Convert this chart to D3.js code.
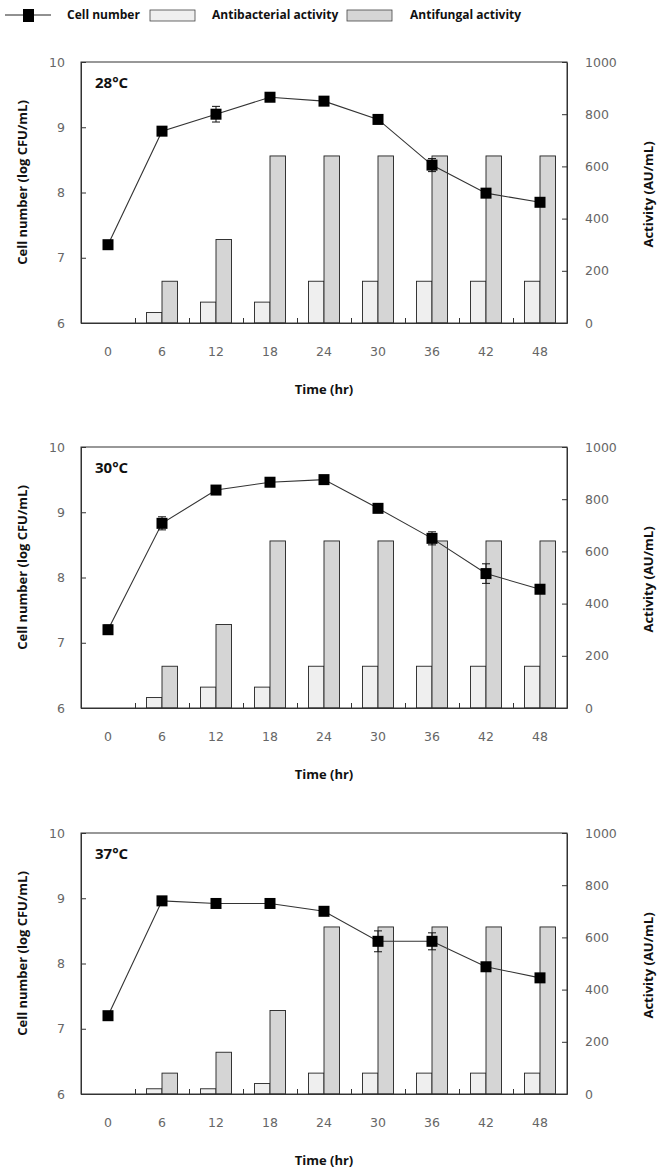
<!DOCTYPE html>
<html>
<head>
<meta charset="utf-8">
<script src="https://cdn.jsdelivr.net/npm/d3@7"></script>
<style>
  body { margin: 0; background: #fff; }
  svg { display: block; }
  .tick text { font-family: "DejaVu Sans", sans-serif; font-size: 12.5px; fill: #666; }
  .bold { font-family: "Open Sans", sans-serif; font-weight: bold; font-size: 12px; fill: #111; }
  .title { font-size: 13px; }
</style>
</head>
<body>
<script>
// time points (hr)
var times = ["0", "6", "12", "18", "24", "30", "36", "42", "48"];
var cellTicks = [6, 7, 8, 9, 10];
var actTicks = [0, 200, 400, 600, 800, 1000];

// 28 C
var cell28 = [7.2, 8.94, 9.2, 9.46, 9.4, 9.12, 8.42, 7.99, 7.85];
var err28 = [0.05, 0.03, 0.12, 0.03, 0.03, 0.03, 0.1, 0.03, 0.03];
var bac28 = [0, 40, 80, 80, 160, 160, 160, 160, 160];
var fun28 = [0, 160, 320, 640, 640, 640, 640, 640, 640];

// 30 C
var cell30 = [7.2, 8.83, 9.34, 9.46, 9.5, 9.06, 8.6, 8.06, 7.82];
var err30 = [0.07, 0.1, 0.03, 0.06, 0.03, 0.06, 0.1, 0.15, 0.03];
var bac30 = [0, 40, 80, 80, 160, 160, 160, 160, 160];
var fun30 = [0, 160, 320, 640, 640, 640, 640, 640, 640];

// 37 C
var cell37 = [7.2, 8.96, 8.92, 8.92, 8.8, 8.34, 8.34, 7.95, 7.78];
var err37 = [0.05, 0.03, 0.03, 0.03, 0.03, 0.16, 0.13, 0.03, 0.03];
var bac37 = [0, 20, 20, 40, 80, 80, 80, 80, 80];
var fun37 = [0, 80, 160, 320, 640, 640, 640, 640, 640];

var panels = [
  {label: "28\u00b0C", top: 62, cell: cell28, err: err28, bac: bac28, fun: fun28},
  {label: "30\u00b0C", top: 447, cell: cell30, err: err30, bac: bac30, fun: fun30},
  {label: "37\u00b0C", top: 833, cell: cell37, err: err37, bac: bac37, fun: fun37}
];

var W = 657, H = 1172;
var left = 81, right = 567, ph = 261;
var bacColor = "#efefef", funColor = "#d5d5d5";

var svg = d3.select("body").append("svg").attr("width", W).attr("height", H);

// legend
var lg = svg.append("g").attr("transform", "translate(0,15)");
lg.append("line").attr("x1", 5).attr("x2", 51).attr("y1", 0).attr("y2", 0).attr("stroke", "#222");
lg.append("rect").attr("x", 23).attr("y", -6).attr("width", 11).attr("height", 13).attr("fill", "#000");
lg.append("text").attr("class", "bold").attr("x", 67).attr("y", 4).text("Cell number");
lg.append("rect").attr("x", 150).attr("y", -5).attr("width", 45).attr("height", 11)
  .attr("fill", bacColor).attr("stroke", "#444").attr("stroke-width", 0.8);
lg.append("text").attr("class", "bold").attr("x", 212).attr("y", 4).text("Antibacterial activity");
lg.append("rect").attr("x", 347).attr("y", -5).attr("width", 45).attr("height", 11)
  .attr("fill", funColor).attr("stroke", "#444").attr("stroke-width", 0.8);
lg.append("text").attr("class", "bold").attr("x", 410).attr("y", 4).text("Antifungal activity");

var x = d3.scaleBand().domain(times).range([left, right]).padding(0);
var xb = d3.scaleLinear().domain([0, times.length]).range([left, right]);
var barW = 15.5;

panels.forEach(function(p) {
  var g = svg.append("g").attr("transform", "translate(0," + p.top + ")");
  var y = d3.scaleLinear().domain([6, 10]).range([ph, 0]);
  var ya = d3.scaleLinear().domain([0, 1000]).range([ph, 0]);

  // bars
  var pairs = times.map(function(t, i) { return {t: t, bac: p.bac[i], fun: p.fun[i]}; });
  g.selectAll(".bac").data(pairs.filter(function(d) { return d.bac > 0; }))
    .enter().append("rect")
    .attr("x", function(d) { return x(d.t) + x.bandwidth() / 2 - barW; })
    .attr("y", function(d) { return ya(d.bac); })
    .attr("width", barW)
    .attr("height", function(d) { return ph - ya(d.bac); })
    .attr("fill", bacColor).attr("stroke", "#222").attr("stroke-width", 0.9);
  g.selectAll(".fun").data(pairs.filter(function(d) { return d.fun > 0; }))
    .enter().append("rect")
    .attr("x", function(d) { return x(d.t) + x.bandwidth() / 2; })
    .attr("y", function(d) { return ya(d.fun); })
    .attr("width", barW)
    .attr("height", function(d) { return ph - ya(d.fun); })
    .attr("fill", funColor).attr("stroke", "#222").attr("stroke-width", 0.9);

  // frame
  g.append("rect").attr("x", left).attr("y", 0).attr("width", right - left).attr("height", ph)
    .attr("fill", "none").attr("stroke", "#333").attr("stroke-width", 1);

  // axes
  g.append("g").call(d3.axisLeft(y).tickValues(cellTicks).tickFormat(d3.format("d"))
      .tickSizeInner(-5).tickSizeOuter(0).tickPadding(16))
    .attr("transform", "translate(" + left + ",0)")
    .call(function(a) { a.select(".domain").attr("stroke", "#333"); a.selectAll(".tick line").attr("stroke", "#333"); });
  g.append("g").call(d3.axisRight(ya).tickValues(actTicks).tickFormat(d3.format("d"))
      .tickSizeInner(-5).tickSizeOuter(0).tickPadding(18))
    .attr("transform", "translate(" + right + ",0)")
    .call(function(a) { a.select(".domain").attr("stroke", "#333"); a.selectAll(".tick line").attr("stroke", "#333"); });
  g.append("g").attr("transform", "translate(0," + ph + ")")
    .call(d3.axisBottom(x).tickSize(0).tickPadding(24))
    .call(function(a) { a.select(".domain").remove(); });
  g.append("g").attr("transform", "translate(0," + ph + ")")
    .call(d3.axisBottom(xb).tickValues(d3.range(1, times.length)).tickSizeInner(-5).tickSizeOuter(0).tickFormat(""))
    .call(function(a) { a.select(".domain").attr("stroke", "#333"); a.selectAll(".tick line").attr("stroke", "#333"); });

  // cell number line
  var pts = times.map(function(t, i) { return {t: t, v: p.cell[i], e: p.err[i]}; });
  var line = d3.line()
    .x(function(d) { return x(d.t) + x.bandwidth() / 2; })
    .y(function(d) { return y(d.v); });
  g.append("path").datum(pts).attr("d", line).attr("fill", "none").attr("stroke", "#333").attr("stroke-width", 1.1);

  var eb = g.selectAll(".err").data(pts).enter().append("g")
    .attr("transform", function(d) { return "translate(" + (x(d.t) + x.bandwidth() / 2) + ",0)"; });
  eb.append("line").attr("y1", function(d) { return y(d.v - d.e); }).attr("y2", function(d) { return y(d.v + d.e); })
    .attr("stroke", "#111");
  eb.append("line").attr("x1", -4).attr("x2", 4)
    .attr("y1", function(d) { return y(d.v + d.e); }).attr("y2", function(d) { return y(d.v + d.e); }).attr("stroke", "#111");
  eb.append("line").attr("x1", -4).attr("x2", 4)
    .attr("y1", function(d) { return y(d.v - d.e); }).attr("y2", function(d) { return y(d.v - d.e); }).attr("stroke", "#111");
  eb.append("rect").attr("x", -5.5).attr("width", 11).attr("height", 11)
    .attr("y", function(d) { return y(d.v) - 5.5; }).attr("fill", "#000");

  // labels
  g.append("text").attr("x", 95).attr("y", 26).attr("class", "bold").style("font-size", "15px").text(p.label);
  g.append("text").attr("class", "bold title").attr("text-anchor", "middle").attr("dy", "0.35em")
    .attr("transform", "translate(22," + (ph / 2 - 10) + ") rotate(-90)").text("Cell number (log CFU/mL)");
  g.append("text").attr("class", "bold title").attr("text-anchor", "middle").attr("dy", "0.35em")
    .attr("transform", "translate(648," + (ph / 2 + 2) + ") rotate(-90)").text("Activity (AU/mL)");
  g.append("text").attr("class", "bold title").attr("text-anchor", "middle")
    .attr("x", (left + right) / 2).attr("y", ph + 71).text("Time (hr)");
});
</script>
</body>
</html>
